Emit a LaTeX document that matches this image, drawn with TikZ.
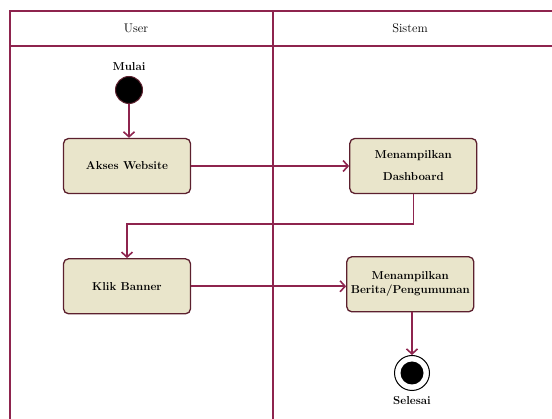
\documentclass[tikz,border=0pt]{standalone}
\usepackage{tikz}
\usetikzlibrary{positioning}
\usetikzlibrary{arrows.meta}

\definecolor{lane}{RGB}{142,36,78}
\definecolor{boxline}{RGB}{92,32,46}
\definecolor{boxfill}{RGB}{233,229,203}

\begin{document}
\begin{tikzpicture}[x=1pt, y=-1pt,
  activity/.style={draw=boxline, fill=boxfill, line width=1.3pt, rounded corners=5pt,
    minimum width=127pt, minimum height=55pt, align=center,
    font=\fontsize{11.5}{14}\selectfont\bfseries},
  flow/.style={draw=lane, line width=1.6pt, -{Straight Barb[length=5pt,width=11pt,line width=1.6pt]}},
  lbl/.style={font=\fontsize{11.5}{13}\selectfont\bfseries}]
\useasboundingbox (0,0) rectangle (552,419);
% swimlanes
\draw [lane, line width=1.5pt] (552,11) -- (10,11) -- (10,419);
\draw [lane, line width=1.5pt] (10,46) -- (552,46);
\draw [lane, line width=1.5pt] (273,11) -- (273,419);
\node (user) at (136,28) {\fontsize{12.5}{14}\selectfont User};
\node (sistem) at (410,28) {\fontsize{12.5}{14}\selectfont Sistem};
% start and activities
\node (start) [circle, fill=black, draw=boxline, line width=1pt, minimum size=27pt, inner sep=0pt] at (129,90) {};
\node (mulai) [lbl, above=2pt of start] {Mulai};
\node (akses) [activity] at (127,166) {Akses Website};
\node (dash) [activity, right=158pt of akses] {Menampilkan\\[8pt]Dashboard};
\node (klik) [activity, below=64pt of akses] {Klik Banner};
\node (berita) [activity, right=155pt of klik, yshift=2pt] {Menampilkan\\Berita/Pengumuman};
\node (end) [circle, draw=black, line width=1pt, fill=white, minimum size=35pt, inner sep=0pt,
  path picture={\fill[black] (path picture bounding box.center) circle (11.5pt);}]
  at (412,373) {};
\node (selesai) [lbl, below=2pt of end] {Selesai};
% arrows
\draw [flow] (start.south) -- (start.south |- akses.north);
\draw [flow] (akses) -- (dash);
\draw [flow] (dash.south) -- ++(0,30) -| (klik.north);
\draw [flow] (klik.east) -- (klik.east -| berita.west);
\draw [flow] (berita.south -| end.north) -- (end.north);
\end{tikzpicture}
\end{document}
